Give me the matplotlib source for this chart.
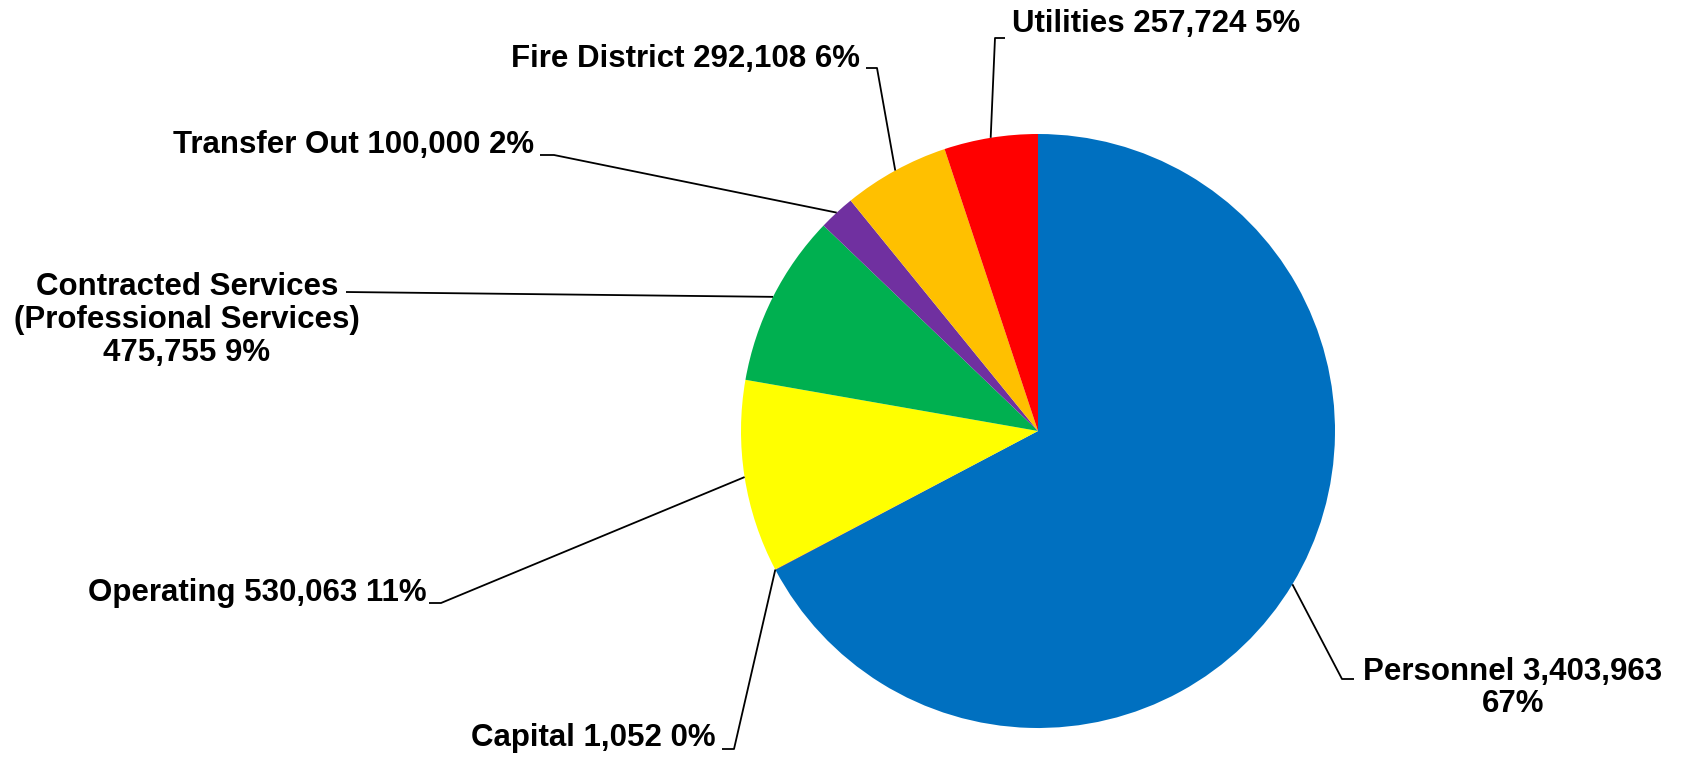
import numpy as np
import matplotlib
matplotlib.use("Agg")
from matplotlib import pyplot as plt

W, H = 1685, 757

categories = ["Personnel", "Capital", "Operating", "Contracted Services\n(Professional Services)\n",
              "Transfer Out", "Fire District", "Utilities"]
values = [3403963, 1052, 530063, 475755, 100000, 292108, 257724]
percents = ["67%", "0%", "11%", "9%", "2%", "6%", "5%"]
colors = ["#0070C0", "#C00000", "#FFFF00", "#00B050", "#7030A0", "#FFC000", "#FF0000"]

plt.rcParams['font.family'] = ['Liberation Sans', 'DejaVu Sans']

fig = plt.figure(figsize=(W / 100, H / 100), dpi=100)
ax = fig.add_axes([0, 0, 1, 1])

wedges, _ = ax.pie(values, colors=colors, startangle=90, counterclock=False,
                   center=(1038, H - 431), radius=297,
                   wedgeprops=dict(linewidth=0))
ax.set_xlim(0, W)
ax.set_ylim(0, H)
ax.set_aspect('equal')
ax.axis('off')

# label layout in pixel coords from top-left: text x, y, ha, elbow, tick end
layout = [
    dict(xy=(1513, 688), ha='center', elbow=(1342, 679), tick=(1354, 679)),
    dict(xy=(716, 738), ha='right', elbow=(734, 749), tick=(722, 749)),
    dict(xy=(427, 593), ha='right', elbow=(441, 603), tick=(429, 603)),
    dict(xy=(187, 320), ha='center', elbow=(346, 292), tick=None),
    dict(xy=(534, 145), ha='right', elbow=(554, 155), tick=(540, 155)),
    dict(xy=(860, 59), ha='right', elbow=(877, 68), tick=(866, 68)),
    dict(xy=(1012, 24), ha='left', elbow=(995, 38), tick=(1005, 38)),
]

for cat, val, pct, w, lay in zip(categories, values, percents, wedges, layout):
    if cat == "Personnel":
        label = f"{cat} {val:,}\n{pct}"
    elif cat.endswith("\n"):
        label = f"{cat}{val:,} {pct}"
    else:
        label = f"{cat} {val:,} {pct}"
    tx, ty = lay['xy']
    ax.text(tx, H - ty, label, ha=lay['ha'], va='center', fontsize=22.5,
            fontweight='bold', multialignment='center', linespacing=1.12)
    ang = np.deg2rad((w.theta1 + w.theta2) / 2)
    cx, cy = w.center
    ax0 = cx + w.r * np.cos(ang)
    ay0 = cy + w.r * np.sin(ang)
    ex, ey = lay['elbow']
    xs = [ax0, ex]
    ys = [ay0, H - ey]
    if lay['tick'] is not None:
        xs.append(lay['tick'][0])
        ys.append(H - lay['tick'][1])
    ax.plot(xs, ys, color='black', linewidth=1.3, solid_capstyle='butt')

plt.savefig('out.png', dpi=100)
